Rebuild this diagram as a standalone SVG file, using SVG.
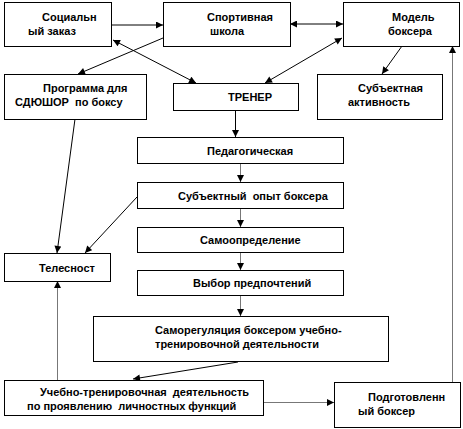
<svg xmlns="http://www.w3.org/2000/svg" width="463" height="429" viewBox="0 0 463 429">
<defs>
<marker id="ah" viewBox="0 0 10 10" refX="10" refY="5" markerWidth="8" markerHeight="7" markerUnits="userSpaceOnUse" orient="auto-start-reverse">
<path d="M0,0 L10,5 L0,10 z" fill="#000"/>
</marker>
<style>
.box{fill:#fff;stroke:#000;stroke-width:1}
.t{font-family:"Liberation Sans",Arial,sans-serif;font-size:11px;font-weight:bold;fill:#000}
.c{stroke:#000;stroke-width:1;fill:none;marker-end:url(#ah)}
.d{marker-start:url(#ah)}
.g{stroke:#777}
</style>
</defs>
<rect width="463" height="429" fill="#fff"/>
<g id="connectors">
<line class="c" x1="111" y1="25" x2="163" y2="25"/>
<line class="c d" x1="290" y1="24" x2="343" y2="24"/>
<line class="c d" x1="113" y1="40" x2="196" y2="83"/>
<line class="c" x1="163" y1="38" x2="78" y2="74"/>
<line class="c d" x1="342" y1="38" x2="265" y2="83"/>
<line class="c" x1="402" y1="46" x2="382" y2="74"/>
<line class="c" x1="235.5" y1="110" x2="235.5" y2="137"/>
<line class="c g" x1="240.5" y1="163" x2="240.5" y2="182"/>
<line class="c g" x1="240.5" y1="208" x2="240.5" y2="227"/>
<line class="c g" x1="240.5" y1="252" x2="240.5" y2="270"/>
<line class="c g" x1="240.5" y1="295" x2="240.5" y2="316"/>
<line class="c" x1="75" y1="119" x2="57" y2="253"/>
<line class="c" x1="137" y1="197" x2="85" y2="253"/>
<line class="c g" x1="57.5" y1="380" x2="57.5" y2="281"/>
<line class="c" x1="238" y1="362" x2="133" y2="379"/>
<line class="c g" x1="263" y1="402.5" x2="334" y2="402.5"/>
<line class="c g" x1="452.5" y1="382" x2="452.5" y2="46"/>
</g>
<g id="soc"><rect class="box" x="4.5" y="2.5" width="107" height="44"/><text class="t" x="42" y="21">Социальн</text><text class="t" x="28" y="35">ый заказ</text></g>
<g id="sport"><rect class="box" x="163.5" y="2.5" width="127" height="44"/><text class="t" x="207" y="21">Спортивная</text><text class="t" x="210" y="35">школа</text></g>
<g id="model"><rect class="box" x="343.5" y="2.5" width="116" height="44"/><text class="t" x="392" y="21">Модель</text><text class="t" x="388" y="35">боксера</text></g>
<g id="prog"><rect class="box" x="4.5" y="74.5" width="142" height="45"/><text class="t" x="43" y="92">Программа для</text><text class="t" x="15" y="106" xml:space="preserve">СДЮШОР  по боксу</text></g>
<g id="trener"><rect class="box" x="173.5" y="83.5" width="125" height="27"/><text class="t" x="228" y="101">ТРЕНЕР</text></g>
<g id="subjact"><rect class="box" x="317.5" y="74.5" width="125" height="45"/><text class="t" x="358" y="92">Субъектная</text><text class="t" x="348" y="106">активность</text></g>
<g id="ped"><rect class="box" x="137.5" y="137.5" width="206" height="26"/><text class="t" x="207" y="155">Педагогическая</text></g>
<g id="subj"><rect class="box" x="137.5" y="182.5" width="206" height="26"/><text class="t" x="178" y="200" xml:space="preserve">Субъектный  опыт боксера</text></g>
<g id="samo"><rect class="box" x="137.5" y="227.5" width="206" height="25"/><text class="t" x="200" y="244">Самоопределение</text></g>
<g id="vybor"><rect class="box" x="137.5" y="270.5" width="206" height="25"/><text class="t" x="193" y="287">Выбор предпочтений</text></g>
<g id="samoreg"><rect class="box" x="93.5" y="316.5" width="295" height="45"/><text class="t" x="155" y="334">Саморегуляция боксером учебно-</text><text class="t" x="155" y="348">тренировочной деятельности</text></g>
<g id="telesnost"><rect class="box" x="4.5" y="253.5" width="106" height="28"/><text class="t" x="39" y="272">Телесност</text></g>
<g id="uchebno"><rect class="box" x="4.5" y="380.5" width="259" height="35"/><text class="t" x="40" y="396" xml:space="preserve">Учебно-тренировочная  деятельность</text><text class="t" x="27" y="410" xml:space="preserve">по проявлению  личностных функций</text></g>
<g id="podgot"><rect class="box" x="334.5" y="382.5" width="126" height="45"/><text class="t" x="368" y="401">Подготовленн</text><text class="t" x="358" y="415">ый боксер</text></g>
</svg>
